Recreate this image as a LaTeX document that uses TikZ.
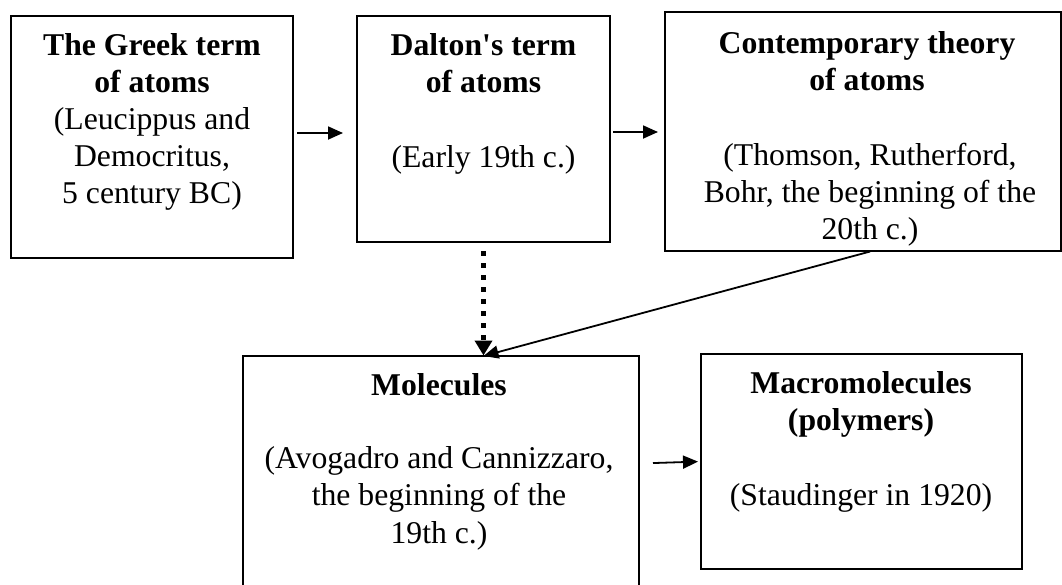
\documentclass[tikz,border=0pt]{standalone}
\usepackage{fontspec}
\setmainfont{Liberation Serif}[Ligatures=TeXOff]
\usetikzlibrary{arrows.meta}
\begin{document}
\begin{tikzpicture}[x=1pt,y=-1pt,
  boxnode/.style={draw=black, line width=1.6pt, inner sep=0pt, outer sep=0pt, rectangle},
  tl/.style={anchor=base, inner sep=0pt, font=\fontsize{31.7}{36}\selectfont},
  tb/.style={anchor=base, inner sep=0pt, font=\fontsize{31.7}{36}\selectfont\bfseries},
  arr/.style={line width=1.8pt, -{Triangle[length=15pt,width=13pt]}},
  dotarr/.style={line width=5pt, dash pattern=on 4.5pt off 7.5pt, -{Triangle[length=15pt,width=17pt]}},
]
\useasboundingbox (0,0) rectangle (1062,584);

% boxes
\node[boxnode, minimum width=282pt, minimum height=242pt] (greek) at (152,137) {};
\node[boxnode, minimum width=253pt, minimum height=226pt] (dalton) at (483.5,129) {};
\node[boxnode, minimum width=396pt, minimum height=239pt] (contemp) at (863,131.5) {};
\node[boxnode, minimum width=396pt, minimum height=232pt] (molec) at (441,472) {};
\node[boxnode, minimum width=321pt, minimum height=215pt] (macro) at (861.5,461.5) {};

% Greek text
\node[tb] (g1) at (152,55) {The Greek term};
\node[tb] (g2) at (152,92) {of atoms};
\node[tl] (g3) at (152,129) {(Leucippus and};
\node[tl] (g4) at (152,166) {Democritus,};
\node[tl] (g5) at (152,203) {5 century BC)};

% Dalton text
\node[tb] (d1) at (483.5,55) {Dalton's term};
\node[tb] (d2) at (483.5,92) {of atoms};
\node[tl] (d3) at (483.5,167) {(Early 19th c.)};

% Contemporary text
\node[tb] (c1) at (867,53) {Contemporary theory};
\node[tb] (c2) at (867,90) {of atoms};
\node[tl] (c3) at (870,165) {(Thomson, Rutherford,};
\node[tl] (c4) at (870,202) {Bohr, the beginning of the};
\node[tl] (c5) at (870,239) {20th c.)};

% Molecules text
\node[tb] (m1) at (439,395) {Molecules};
\node[tl] (m2) at (439,468) {(Avogadro and Cannizzaro,};
\node[tl] (m3) at (439,505) {the beginning of the};
\node[tl] (m4) at (439,543) {19th c.)};

% Macromolecules text
\node[tb] (p1) at (861,393) {Macromolecules};
\node[tb] (p2) at (861,430) {(polymers)};
\node[tl] (p3) at (861,505) {(Staudinger in 1920)};

% connectors
\draw[arr, shorten <=4pt, shorten >=14pt] ([yshift=4pt]greek.east) -- ([yshift=-4pt]dalton.west);
\draw[arr, shorten <=3pt, shorten >=7pt] ([yshift=-3pt]dalton.east) -- ([yshift=-0.5pt]contemp.west);
\coordinate (mtop) at (dalton.south |- molec.north);
\draw[dotarr, shorten <=9pt, shorten >=0.5pt] (dalton.south) -- (mtop);
\draw[arr, shorten <=2pt] ([xshift=9pt]contemp.south) -- (mtop);
\draw[arr, shorten <=14pt, shorten >=3pt] ([yshift=8.5pt]molec.east) -- ([yshift=0pt]macro.west);
\end{tikzpicture}
\end{document}
